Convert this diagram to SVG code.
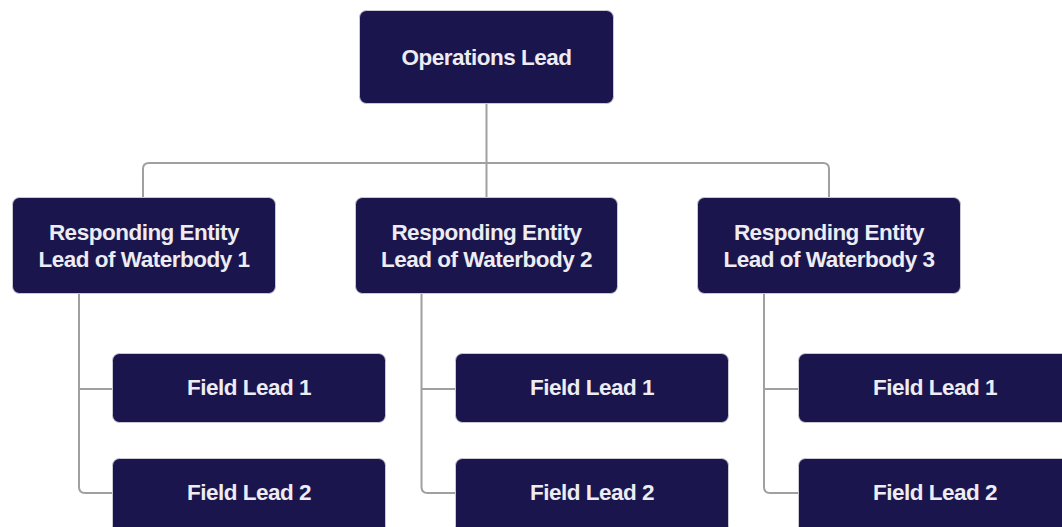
<svg xmlns="http://www.w3.org/2000/svg" width="1062" height="527" viewBox="0 0 1062 527">
<style>
.n{fill:#1b154d;stroke:#c9c9d2;stroke-width:1}
.t{fill:#ececf2;font-family:"Liberation Sans",Arial,sans-serif;font-weight:bold;font-size:22.5px;letter-spacing:-0.5px;text-anchor:middle}
.c{fill:none;stroke:#a0a0a0;stroke-width:2}
</style>
<rect width="1062" height="527" fill="#ffffff"/>
<g id="connectors">
<path class="c" d="M486.5 104V197"/>
<path class="c" d="M143 197V169Q143 163 149 163H823Q829 163 829 169V197"/>
<path class="c" d="M79 294V487Q79 493 85 493H112M79 389H112"/>
<path class="c" d="M421.5 294V487Q421.5 493 427.5 493H455M421.5 389H455"/>
<path class="c" d="M764 294V487Q764 493 770 493H798M764 389H798"/>
</g>
<g id="operations-lead"><rect class="n" x="359.5" y="10.5" width="254" height="93" rx="7"/><text class="t" x="486.5" y="65">Operations Lead</text></g>
<g id="re-lead-1"><rect class="n" x="12.5" y="197.5" width="263" height="96" rx="7"/><text class="t" x="144" y="240">Responding Entity</text><text class="t" x="144" y="267">Lead of Waterbody 1</text></g>
<g id="re-lead-2"><rect class="n" x="355.5" y="197.5" width="262" height="96" rx="7"/><text class="t" x="486.5" y="240">Responding Entity</text><text class="t" x="486.5" y="267">Lead of Waterbody 2</text></g>
<g id="re-lead-3"><rect class="n" x="697.5" y="197.5" width="263" height="96" rx="7"/><text class="t" x="829" y="240">Responding Entity</text><text class="t" x="829" y="267">Lead of Waterbody 3</text></g>
<g id="field-1-1"><rect class="n" x="112.5" y="353.5" width="273" height="69" rx="7"/><text class="t" x="249" y="395">Field Lead 1</text></g>
<g id="field-1-2"><rect class="n" x="112.5" y="458.5" width="273" height="75" rx="7"/><text class="t" x="249" y="500">Field Lead 2</text></g>
<g id="field-2-1"><rect class="n" x="455.5" y="353.5" width="273" height="69" rx="7"/><text class="t" x="592" y="395">Field Lead 1</text></g>
<g id="field-2-2"><rect class="n" x="455.5" y="458.5" width="273" height="75" rx="7"/><text class="t" x="592" y="500">Field Lead 2</text></g>
<g id="field-3-1"><rect class="n" x="798.5" y="353.5" width="273" height="69" rx="7"/><text class="t" x="935" y="395">Field Lead 1</text></g>
<g id="field-3-2"><rect class="n" x="798.5" y="458.5" width="273" height="75" rx="7"/><text class="t" x="935" y="500">Field Lead 2</text></g>
</svg>
